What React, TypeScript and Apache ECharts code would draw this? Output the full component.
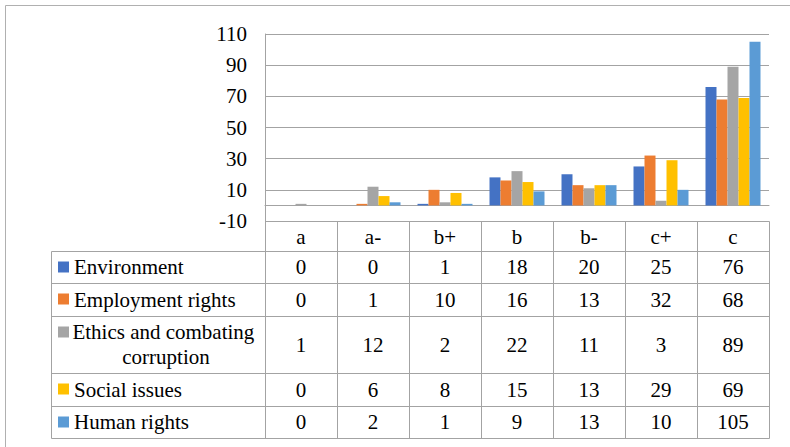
import React, { useEffect, useRef } from "react";
import * as echarts from "echarts";

// ---- data ----
const categories = ["a", "a-", "b+", "b", "b-", "c+", "c"];
const seriesNames = [
  "Environment",
  "Employment rights",
  "Ethics and combating corruption",
  "Social issues",
  "Human rights",
];
const environment = [0, 0, 1, 18, 20, 25, 76];
const employmentRights = [0, 1, 10, 16, 13, 32, 68];
const ethicsCorruption = [1, 12, 2, 22, 11, 3, 89];
const socialIssues = [0, 6, 8, 15, 13, 29, 69];
const humanRights = [0, 2, 1, 9, 13, 10, 105];
const yMin = -10;
const yMax = 110;
const yStep = 20;

const seriesValues = [environment, employmentRights, ethicsCorruption, socialIssues, humanRights];
const colors = ["#4472C4", "#ED7D31", "#A5A5A5", "#FFC000", "#5B9BD5"];

// ---- layout ----
const W = 790;
const H = 447;
const plotLeft = 265;
const plotRight = 769;
const plotTop = 34;
const plotBottom = 221;
const headerBottom = 251;
const rowHeights = [32, 33, 57, 33, 32];
const legendLeft = 51;
const lineColor = "#A3A3A3";
const FONT = "Liberation Serif";
const FS = 21;

function buildGraphics() {
  const els: any[] = [];
  const colW = (plotRight - plotLeft) / categories.length;
  const line = (x1: number, y1: number, x2: number, y2: number, color = lineColor) => {
    els.push({ type: "line", silent: true, shape: { x1, y1, x2, y2 }, style: { stroke: color, lineWidth: 1 } });
  };
  const text = (t: string, x: number, y: number, align = "center", extra: any = {}) => {
    els.push({
      type: "text",
      silent: true,
      style: {
        text: t, x, y, fill: "#000", fontSize: FS, fontFamily: FONT,
        align, textAlign: align, verticalAlign: "middle", textVerticalAlign: "middle", ...extra,
      },
    });
  };

  // outer chart border
  els.push({
    type: "rect", silent: true,
    shape: { x: 5.5, y: 5.5, width: 900, height: 600 },
    style: { fill: "none", stroke: "#B0B0B0", lineWidth: 1 },
  });

  const rowTops: number[] = [];
  let y = headerBottom;
  for (const h of rowHeights) { rowTops.push(y); y += h; }
  const tableBottom = y;

  line(plotLeft, plotBottom + 0.5, plotRight + 0.5, plotBottom + 0.5);
  rowTops.forEach((t) => line(legendLeft + 0.5, t + 0.5, plotRight + 0.5, t + 0.5));
  line(legendLeft + 0.5, tableBottom + 0.5, plotRight + 0.5, tableBottom + 0.5);
  line(legendLeft + 0.5, headerBottom + 0.5, legendLeft + 0.5, tableBottom + 0.5);
  for (let i = 0; i <= categories.length; i++) {
    const x = Math.round(plotLeft + i * colW) + 0.5;
    line(x, plotBottom + 0.5, x, tableBottom + 0.5);
  }

  categories.forEach((c, i) => text(c, plotLeft + (i + 0.5) * colW, (plotBottom + headerBottom) / 2 + 1));

  seriesNames.forEach((name, r) => {
    const top = rowTops[r];
    const h = rowHeights[r];
    const cy = top + h / 2;
    els.push({
      type: "rect", silent: true,
      shape: { x: 58, y: top + 16 - 5.5, width: 11, height: 11 },
      style: { fill: colors[r] },
    });
    if (h > 40) text(name, 166, cy, "center", { width: 190, overflow: "break", lineHeight: 24.5 });
    else text(name, 74, cy, "left");
    seriesValues[r].forEach((v, i) => text(String(v), plotLeft + (i + 0.5) * colW, cy));
  });

  return els;
}

export default function App() {
  const ref = useRef<HTMLDivElement>(null);
  useEffect(() => {
    if (!ref.current) return;
    const chart = echarts.init(ref.current, null, { renderer: "svg" });
    chart.setOption({
      animation: false,
      backgroundColor: "#fff",
      textStyle: { fontFamily: FONT },
      grid: { left: plotLeft, top: plotTop, width: plotRight - plotLeft, height: plotBottom - plotTop, containLabel: false },
      xAxis: {
        type: "category", data: categories,
        axisLabel: { show: false }, axisTick: { show: false },
        axisLine: { show: true, onZero: true, lineStyle: { color: lineColor, width: 1 } },
        splitLine: { show: false },
      },
      yAxis: {
        type: "value", min: yMin, max: yMax, interval: yStep,
        axisLabel: { fontSize: FS, fontFamily: FONT, color: "#000", margin: 18 },
        axisTick: { show: false },
        axisLine: { show: true, lineStyle: { color: lineColor, width: 1 } },
        splitLine: { show: true, lineStyle: { color: lineColor, width: 1 } },
      },
      series: seriesNames.map((name, i) => ({
        name, type: "bar", data: seriesValues[i], barWidth: 11, barGap: "0%",
        itemStyle: { color: colors[i] },
      })),
      graphic: { elements: buildGraphics() },
    });
    return () => chart.dispose();
  }, []);
  return <div ref={ref} style={{ position: "fixed", left: 0, top: 0, width: W, height: H, background: "#fff" }} />;
}
